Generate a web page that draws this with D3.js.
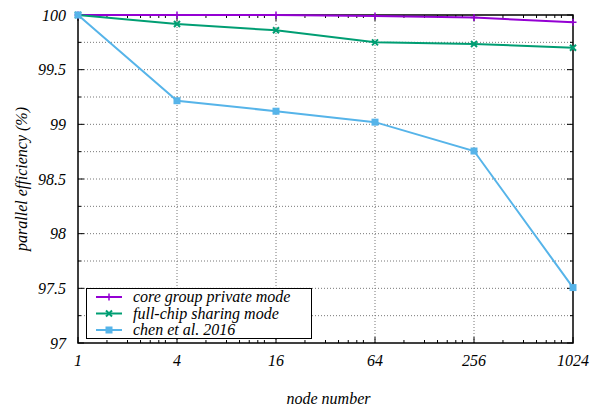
<!DOCTYPE html>
<html><head><meta charset="utf-8">
<script src="https://cdn.jsdelivr.net/npm/d3@7"></script>
<style>body{margin:0;background:#fff}svg{display:block}</style>
</head><body><svg id="c" width="603" height="409"></svg>
<script>
const nodes=[1,4,16,64,256,1024];
const yTicks=[97,97.5,98,98.5,99,99.5,100];
const yMinor=[97.25,97.75,98.25,98.75,99.25,99.75];
const minorFactors=[1.5,2,2.4,2.75,3.1,3.4];
const seriesNames=["core group private mode","full-chip sharing mode","chen et al. 2016"];
const corePrivate=[100,100,100,99.99,99.977,99.933];
const fullChip=[100,99.918,99.86,99.75,99.735,99.70];
const chen2016=[100,99.216,99.12,99.02,98.756,97.507];
const colors=["#9400d3","#009e73","#56b4e9"];
const markers=["plus","cross","square"];

const svg=d3.select("#c");
function txt(sel){return sel.append("text").attr("style","font-family:'Liberation Serif',Tinos,'Times New Roman',serif !important;font-style:italic !important;font-size:16px !important;fill:#000");}
const L=78,R=573,T=15,B=343;
const x=d3.scaleLog().base(2).domain([1,1024]).range([L,R]);
const y=d3.scaleLinear().domain([97,100]).range([B,T]);

const g=svg.append("g");
const gridY=yTicks.concat(yMinor).filter(v=>v>97&&v<100);
g.selectAll(".gy").data(gridY).enter().append("line")
 .attr("x1",L).attr("x2",R).attr("y1",d=>y(d)).attr("y2",d=>y(d))
 .attr("stroke","#777").attr("stroke-width",1).attr("stroke-dasharray","1,2");
g.selectAll(".gx").data(nodes.slice(1,-1)).enter().append("line")
 .attr("y1",T).attr("y2",B).attr("x1",d=>x(d)).attr("x2",d=>x(d))
 .attr("stroke","#777").attr("stroke-width",1).attr("stroke-dasharray","1,2");

const tk=svg.append("g").attr("stroke","#000").attr("stroke-width",1);
const major=6,minor=3;
yTicks.forEach(v=>{tk.append("line").attr("x1",L).attr("x2",L+major).attr("y1",y(v)).attr("y2",y(v));
 tk.append("line").attr("x1",R).attr("x2",R-major).attr("y1",y(v)).attr("y2",y(v));});
yMinor.forEach(v=>{tk.append("line").attr("x1",L).attr("x2",L+minor).attr("y1",y(v)).attr("y2",y(v));
 tk.append("line").attr("x1",R).attr("x2",R-minor).attr("y1",y(v)).attr("y2",y(v));});
nodes.forEach(v=>{tk.append("line").attr("x1",x(v)).attr("x2",x(v)).attr("y1",B).attr("y2",B-major);
 tk.append("line").attr("x1",x(v)).attr("x2",x(v)).attr("y1",T).attr("y2",T+major);});
nodes.slice(0,-1).forEach(v=>minorFactors.forEach(f=>{const xv=x(v*f);
 tk.append("line").attr("x1",xv).attr("x2",xv).attr("y1",B).attr("y2",B-minor);
 tk.append("line").attr("x1",xv).attr("x2",xv).attr("y1",T).attr("y2",T+minor);}));

yTicks.forEach(v=>txt(svg).attr("x",66).attr("y",y(v)+5.5).attr("text-anchor","end").text(v));
nodes.forEach(v=>txt(svg).attr("x",x(v)).attr("y",366).attr("text-anchor","middle").text(v));

txt(svg).attr("x",(L+R)/2+3).attr("y",404).attr("text-anchor","middle").text("node number");
txt(svg).attr("transform",`translate(27,${(T+B)/2}) rotate(-90)`).attr("text-anchor","middle").text("parallel efficiency (%)");

svg.append("rect").attr("x",L).attr("y",T).attr("width",R-L).attr("height",B-T)
 .attr("fill","none").attr("stroke","#000").attr("stroke-width",1.5);

function marker(sel,type,c){
 if(type==="plus"){sel.append("path").attr("d","M-3.5,0H3.5M0,-3.5V3.5").attr("stroke",c).attr("stroke-width",1.5).attr("fill","none");}
 else if(type==="cross"){sel.append("path").attr("d","M-3,-3L3,3M-3,3L3,-3").attr("stroke",c).attr("stroke-width",2).attr("fill","none");}
 else {sel.append("rect").attr("x",-3.5).attr("y",-3.5).attr("width",7).attr("height",7).attr("fill",c);}
}
const all=[corePrivate,fullChip,chen2016];
const line=d3.line().x((d,i)=>x(nodes[i])).y(d=>y(d));
all.forEach((s,k)=>{
 svg.append("path").attr("d",line(s)).attr("fill","none").attr("stroke",colors[k]).attr("stroke-width",2);
 s.forEach((v,i)=>marker(svg.append("g").attr("transform",`translate(${x(nodes[i])},${y(v)})`),markers[k],colors[k]));
});

const lg=svg.append("g");
lg.append("rect").attr("x",86.5).attr("y",288.5).attr("width",225).attr("height",50).attr("fill","#fff").attr("stroke","#000").attr("stroke-width",1);
seriesNames.forEach((n,k)=>{
 const yy=297+k*16.5;
 lg.append("line").attr("x1",96).attr("x2",122).attr("y1",yy).attr("y2",yy).attr("stroke",colors[k]).attr("stroke-width",2);
 marker(lg.append("g").attr("transform",`translate(109,${yy})`),markers[k],colors[k]);
 txt(lg).attr("x",133).attr("y",yy+5).text(n);
});
</script></body></html>
